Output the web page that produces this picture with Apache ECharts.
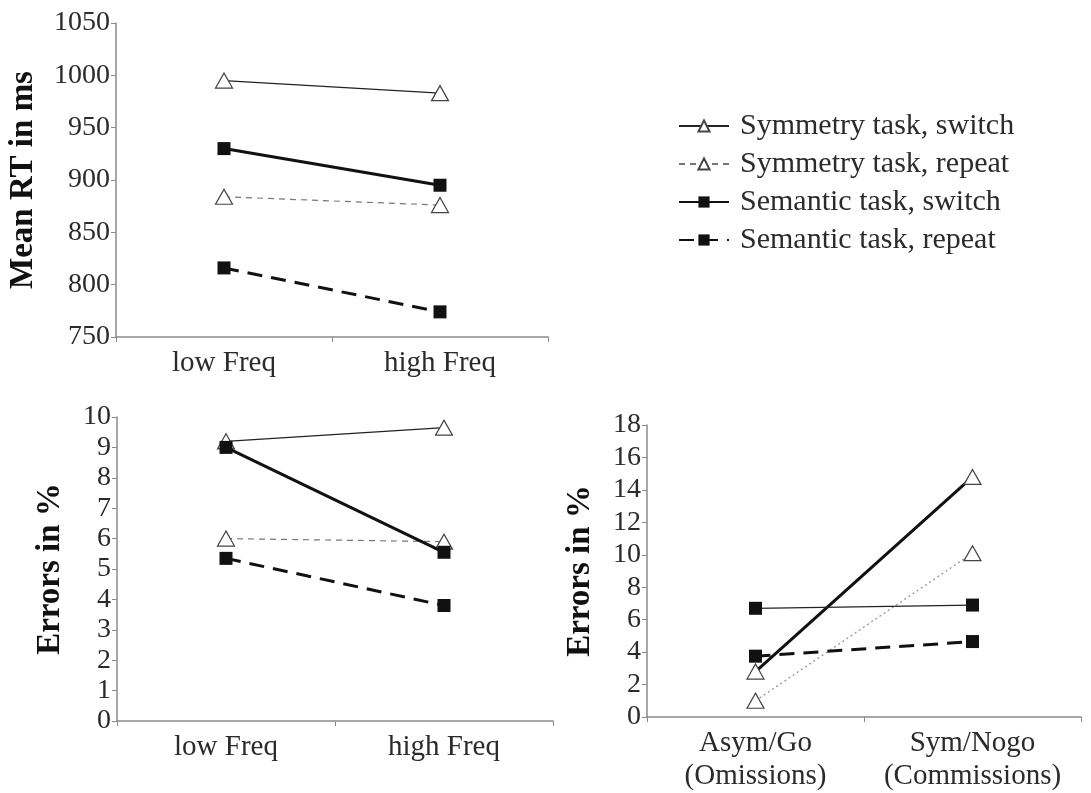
<!DOCTYPE html>
<html>
<head>
<meta charset="utf-8">
<script src="https://cdn.jsdelivr.net/npm/echarts@6/dist/echarts.min.js"></script>
<style>
html,body{margin:0;padding:0;background:#fff;}
#chart{width:1091px;height:793px;}
</style>
</head>
<body>
<div id="chart"></div>
<script>
// ---- data ----
const freqCats = ['low Freq', 'high Freq'];
const goCats = ['Asym/Go\n(Omissions)', 'Sym/Nogo\n(Commissions)'];
const seriesNames = ['Symmetry task, switch', 'Symmetry task, repeat', 'Semantic task, switch', 'Semantic task, repeat'];

const rtSymSwitch = [995, 983];
const rtSymRepeat = [884, 876];
const rtSemSwitch = [930, 895];
const rtSemRepeat = [816, 774];

const errSymSwitch = [9.2, 9.65];
const errSymRepeat = [6.0, 5.9];
const errSemSwitch = [9.0, 5.55];
const errSemRepeat = [5.35, 3.8];

const goSymSwitch = [2.8, 14.8];
const goSymRepeat = [1.0, 10.1];
const goSemSwitch = [6.7, 6.9];
const goSemRepeat = [3.75, 4.65];

// ---- styles ----
const FONT = 'Liberation Serif';
const TXT = '#2b2b2b';
const AX = '#8a8a8a';

const triStyle = { color: '#fff', borderColor: '#444', borderWidth: 1.2 };
const sqStyle = { color: '#111', borderColor: '#111', borderWidth: 0 };

function mk(name, data, idx, kind, line) {
  const tri = kind === 'tri';
  return {
    name: name, type: 'line', data: data,
    xAxisIndex: idx, yAxisIndex: idx,
    symbol: tri ? 'triangle' : 'rect',
    symbolSize: tri ? [17, 15] : 13,
    itemStyle: tri ? triStyle : sqStyle,
    lineStyle: line,
    emphasis: { disabled: true },
    animation: false, z: tri ? 3 : 4
  };
}
const thinSolid = { color: '#222', width: 1.2, type: 'solid' };
const thinDash = { color: '#777', width: 1.2, type: [6, 5] };
const thickSolid = { color: '#111', width: 3, type: 'solid' };
const thickDash = { color: '#111', width: 3, type: [15, 9] };
const dotted = { color: '#999', width: 1.3, type: [2, 3] };

function xAx(idx, cats, labelExtra) {
  return {
    type: 'category', gridIndex: idx, data: cats, boundaryGap: true,
    axisLine: { show: true, lineStyle: { color: AX, width: 1.5 } },
    axisTick: { show: true, length: 5, inside: false, lineStyle: { color: AX } },
    axisLabel: Object.assign({ color: TXT, fontFamily: FONT, fontSize: 29, margin: 12, interval: 0, hideOverlap: false }, labelExtra || {}),
    splitLine: { show: false }
  };
}
function yAx(idx, min, max, interval, name, gap) {
  return {
    type: 'value', gridIndex: idx, min: min, max: max, interval: interval,
    name: name, nameLocation: 'middle', nameRotate: 90, nameGap: gap,
    nameTextStyle: { color: '#111', fontFamily: FONT, fontSize: 33, fontWeight: 'bold' },
    axisLine: { show: true, lineStyle: { color: AX, width: 1.5 } },
    axisTick: { show: true, length: 5, lineStyle: { color: AX } },
    axisLabel: { color: TXT, fontFamily: FONT, fontSize: 28, margin: 6, formatter: function (v) { return String(v); } },
    splitLine: { show: false }
  };
}

const chart = echarts.init(document.getElementById('chart'), null, { renderer: 'canvas' });
chart.setOption({
  backgroundColor: '#fff',
  animation: false,
  grid: [
    { left: 116, top: 23, width: 432, height: 314 },
    { left: 117, top: 417, width: 436, height: 304 },
    { left: 647, top: 425, width: 434, height: 297 }
  ],
  xAxis: [
    xAx(0, freqCats),
    xAx(1, freqCats),
    xAx(2, goCats, { margin: 10, lineHeight: 33 })
  ],
  yAxis: [
    yAx(0, 750, 1050, 50, 'Mean RT in ms', 76),
    yAx(1, 0, 10, 1, 'Errors in %', 50),
    yAx(2, 0, 18, 2, 'Errors in %', 50)
  ],
  legend: {
    data: seriesNames, orient: 'vertical', left: 673, top: 106,
    itemWidth: 50, itemHeight: 14, itemGap: 8, selectedMode: false,
    textStyle: { color: TXT, fontFamily: FONT, fontSize: 30, padding: [0, 0, 0, 6] }
  },
  series: [
    mk(seriesNames[0], rtSymSwitch, 0, 'tri', thinSolid),
    mk(seriesNames[1], rtSymRepeat, 0, 'tri', thinDash),
    mk(seriesNames[2], rtSemSwitch, 0, 'sq', thickSolid),
    mk(seriesNames[3], rtSemRepeat, 0, 'sq', thickDash),

    mk(seriesNames[0], errSymSwitch, 1, 'tri', thinSolid),
    mk(seriesNames[1], errSymRepeat, 1, 'tri', thinDash),
    mk(seriesNames[2], errSemSwitch, 1, 'sq', thickSolid),
    mk(seriesNames[3], errSemRepeat, 1, 'sq', thickDash),

    mk(seriesNames[0], goSymSwitch, 2, 'tri', thickSolid),
    mk(seriesNames[1], goSymRepeat, 2, 'tri', dotted),
    mk(seriesNames[2], goSemSwitch, 2, 'sq', thinSolid),
    mk(seriesNames[3], goSemRepeat, 2, 'sq', thickDash)
  ]
});
</script>
</body>
</html>
